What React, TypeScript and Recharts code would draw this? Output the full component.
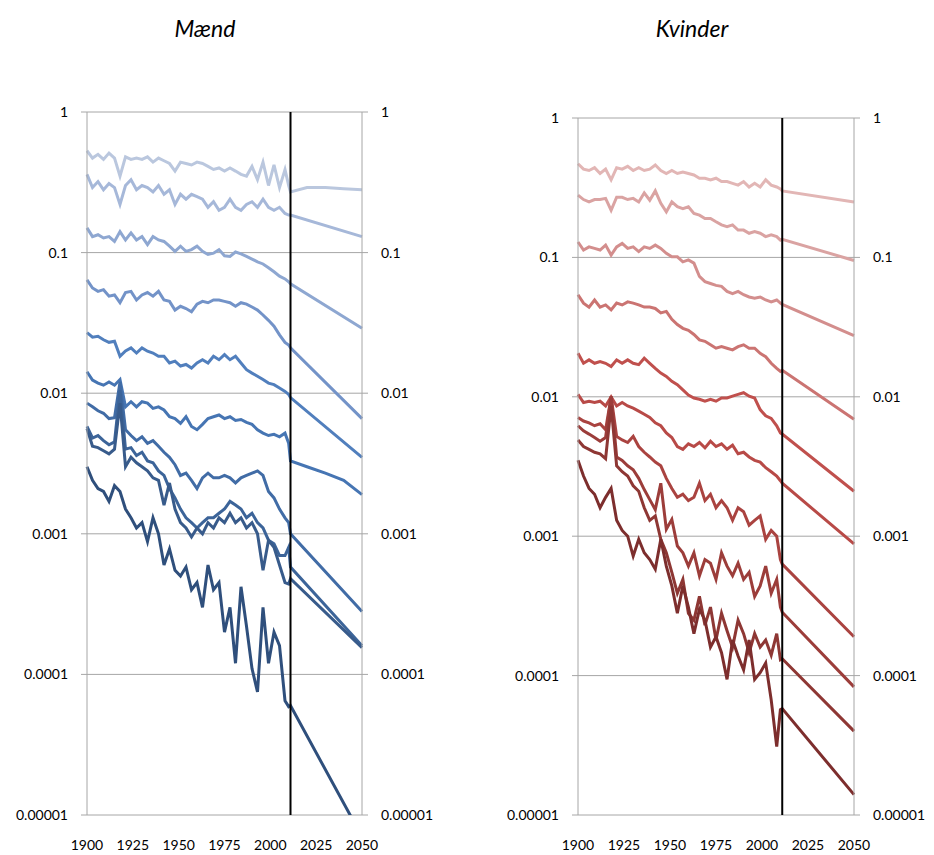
import React from 'react';
import { LineChart, Line, XAxis, YAxis, CartesianGrid, ReferenceLine } from 'recharts';

// years: observed (3-year steps to 2010) followed by projection points
const years = [
  1900, 1903, 1906, 1909, 1912, 1915, 1918, 1921, 1924, 1927, 1930, 1933, 1936, 1939, 1942, 1945,
  1948, 1951, 1954, 1957, 1960, 1963, 1966, 1969, 1972, 1975, 1978, 1981, 1984, 1987, 1990, 1993,
  1996, 1999, 2002, 2005, 2008, 2010,
  2011, 2020, 2030, 2040, 2050,
];

const xTicks = [1900, 1925, 1950, 1975, 2000, 2025, 2050];
const yTicks = [0.00001, 0.0001, 0.001, 0.01, 0.1, 1];
const yTickLabels = ['0.00001', '0.0001', '0.001', '0.01', '0.1', '1'];
const forecastStart = 2011;

// Mænd
const m1 = [0.53, 0.47, 0.5, 0.46, 0.51, 0.47, 0.35, 0.48, 0.46, 0.47, 0.46, 0.48, 0.44, 0.47, 0.45, 0.43, 0.38, 0.44, 0.43, 0.42, 0.44, 0.43, 0.41, 0.39, 0.4, 0.38, 0.4, 0.38, 0.36, 0.35, 0.41, 0.33, 0.44, 0.3, 0.42, 0.29, 0.39, 0.3,
  0.27, 0.29, 0.29, 0.285, 0.28];
const m2 = [0.36, 0.29, 0.32, 0.28, 0.31, 0.29, 0.22, 0.3, 0.33, 0.28, 0.3, 0.29, 0.27, 0.3, 0.26, 0.28, 0.22, 0.26, 0.24, 0.26, 0.25, 0.24, 0.21, 0.23, 0.2, 0.21, 0.24, 0.21, 0.2, 0.22, 0.23, 0.21, 0.24, 0.21, 0.2, 0.21, 0.19, 0.185,
  0.185, null, null, null, 0.13];
const m3 = [0.15, 0.13, 0.134, 0.127, 0.13, 0.12, 0.141, 0.123, 0.138, 0.123, 0.13, 0.114, 0.13, 0.123, 0.12, 0.111, 0.102, 0.111, 0.102, 0.105, 0.111, 0.102, 0.097, 0.099, 0.105, 0.095, 0.094, 0.101, 0.098, 0.094, 0.09, 0.086, 0.083, 0.078, 0.073, 0.068, 0.065, 0.062,
  0.06, null, null, null, 0.029];
const m4 = [0.064, 0.056, 0.053, 0.0545, 0.049, 0.05, 0.044, 0.052, 0.053, 0.046, 0.05, 0.052, 0.049, 0.053, 0.046, 0.045, 0.039, 0.0415, 0.04, 0.038, 0.043, 0.045, 0.044, 0.046, 0.046, 0.045, 0.044, 0.0415, 0.044, 0.043, 0.041, 0.039, 0.036, 0.033, 0.03, 0.026, 0.023, 0.022,
  0.021, null, null, null, 0.0066];
const m5 = [0.027, 0.025, 0.0254, 0.024, 0.023, 0.0234, 0.0183, 0.02, 0.021, 0.0193, 0.021, 0.0199, 0.0193, 0.0183, 0.0183, 0.0164, 0.0169, 0.0156, 0.016, 0.0151, 0.0164, 0.0173, 0.0164, 0.0183, 0.0173, 0.0188, 0.0173, 0.0183, 0.0164, 0.0147, 0.0139, 0.0132, 0.0125, 0.0118, 0.0115, 0.0109, 0.0103, 0.0098,
  0.0093, null, null, null, 0.0035];
const m6 = [0.0142, 0.0124, 0.0118, 0.0114, 0.012, 0.0114, 0.0125, 0.008, 0.0087, 0.008, 0.0087, 0.0085, 0.0078, 0.008, 0.0076, 0.0068, 0.0066, 0.0061, 0.0068, 0.0058, 0.0055, 0.006, 0.0066, 0.0068, 0.007, 0.0066, 0.0068, 0.0064, 0.0065, 0.0062, 0.006, 0.0055, 0.0052, 0.005, 0.0051, 0.0049, 0.0052, 0.0044,
  0.0033, 0.003, 0.0027, 0.0024, 0.0019];
const m7 = [0.0085, 0.008, 0.0075, 0.0072, 0.0066, 0.0067, 0.012, 0.0055, 0.005, 0.0046, 0.0049, 0.0044, 0.0046, 0.0042, 0.0038, 0.0035, 0.0031, 0.0026, 0.0027, 0.0024, 0.0021, 0.0025, 0.0027, 0.0025, 0.0025, 0.0026, 0.0025, 0.0023, 0.0025, 0.0026, 0.0027, 0.0028, 0.0026, 0.002, 0.0018, 0.0015, 0.0013, 0.0012,
  0.001, null, null, null, 0.00028];
const m8 = [0.0058, 0.0048, 0.005, 0.0046, 0.0043, 0.0045, 0.0105, 0.004, 0.0041, 0.0036, 0.0038, 0.0033, 0.0032, 0.0028, 0.0026, 0.0021, 0.0018, 0.0015, 0.0013, 0.0012, 0.0011, 0.0012, 0.0013, 0.0013, 0.0014, 0.0015, 0.0017, 0.0016, 0.0015, 0.0013, 0.0014, 0.0012, 0.0011, 0.0009, 0.00085, 0.0007, 0.0007, 0.0008,
  0.00058, null, null, null, 0.00016];
const m9 = [0.0056, 0.0042, 0.0041, 0.0039, 0.0037, 0.004, 0.0085, 0.003, 0.0035, 0.0032, 0.003, 0.0028, 0.0025, 0.0024, 0.0016, 0.0023, 0.0015, 0.0012, 0.0011, 0.00095, 0.0011, 0.001, 0.0012, 0.0011, 0.0013, 0.0012, 0.0014, 0.0012, 0.0013, 0.0011, 0.0012, 0.001, 0.00055, 0.0009, 0.0008, 0.0006, 0.00045, 0.00044,
  0.00048, null, null, null, 0.000155];
const m10 = [0.003, 0.0024, 0.0021, 0.002, 0.0017, 0.0022, 0.002, 0.0015, 0.0013, 0.0011, 0.0012, 0.00088, 0.0013, 0.001, 0.0006, 0.00078, 0.00055, 0.0005, 0.00058, 0.0004, 0.00045, 0.0003, 0.0006, 0.0004, 0.00045, 0.0002, 0.0003, 0.00012, 0.00042, 0.00022, 0.00011, 0.000075, 0.0003, 0.00012, 0.0002, 0.00016, 0.000065, 0.000059,
  0.00006, null, null, null, 0.000007];

// Kvinder
const k1 = [0.47, 0.43, 0.42, 0.44, 0.4, 0.43, 0.36, 0.44, 0.43, 0.45, 0.42, 0.44, 0.42, 0.43, 0.46, 0.42, 0.4, 0.42, 0.4, 0.41, 0.4, 0.39, 0.37, 0.37, 0.36, 0.37, 0.35, 0.35, 0.34, 0.33, 0.35, 0.32, 0.34, 0.32, 0.36, 0.33, 0.32, 0.31,
  0.3, null, null, null, 0.25];
const k2 = [0.28, 0.26, 0.25, 0.26, 0.26, 0.265, 0.218, 0.27, 0.27, 0.26, 0.265, 0.25, 0.29, 0.257, 0.3, 0.244, 0.212, 0.25, 0.231, 0.224, 0.231, 0.207, 0.201, 0.19, 0.19, 0.18, 0.171, 0.166, 0.171, 0.157, 0.157, 0.149, 0.153, 0.149, 0.141, 0.145, 0.141, 0.133,
  0.135, null, null, null, 0.095];
const k3 = [0.129, 0.113, 0.119, 0.116, 0.113, 0.1225, 0.104, 0.119, 0.126, 0.116, 0.119, 0.11, 0.119, 0.116, 0.1225, 0.116, 0.107, 0.101, 0.101, 0.093, 0.096, 0.091, 0.073, 0.067, 0.065, 0.063, 0.062, 0.057, 0.055, 0.057, 0.054, 0.052, 0.051, 0.052, 0.0495, 0.048, 0.0495, 0.047,
  0.046, null, null, null, 0.0275];
const k4 = [0.054, 0.047, 0.044, 0.0495, 0.044, 0.0456, 0.042, 0.047, 0.0456, 0.048, 0.047, 0.0456, 0.044, 0.044, 0.043, 0.04, 0.041, 0.036, 0.033, 0.031, 0.03, 0.028, 0.0256, 0.025, 0.0236, 0.0223, 0.0229, 0.0223, 0.0217, 0.0229, 0.0236, 0.0223, 0.0223, 0.0205, 0.0194, 0.0174, 0.016, 0.0152,
  0.0155, null, null, null, 0.0069];
const k5 = [0.0205, 0.0174, 0.0184, 0.0174, 0.0179, 0.0174, 0.0165, 0.0184, 0.0174, 0.0184, 0.0174, 0.017, 0.0189, 0.0174, 0.016, 0.0148, 0.014, 0.0129, 0.0122, 0.0112, 0.0103, 0.0098, 0.0096, 0.0093, 0.0096, 0.0093, 0.0098, 0.0098, 0.0101, 0.0104, 0.0107, 0.0101, 0.0098, 0.0081, 0.0073, 0.007, 0.0062, 0.0055,
  0.0054, null, null, null, 0.0021];
const k6 = [0.0104, 0.0091, 0.0093, 0.0091, 0.0093, 0.0086, 0.01, 0.0086, 0.0091, 0.0086, 0.0083, 0.0079, 0.0075, 0.0071, 0.0065, 0.0062, 0.0055, 0.0051, 0.0044, 0.0042, 0.0046, 0.0044, 0.0047, 0.0043, 0.0048, 0.0044, 0.0046, 0.0042, 0.0045, 0.0039, 0.004, 0.0037, 0.0035, 0.0034, 0.0031, 0.0029, 0.0027, 0.0025,
  0.0024, null, null, null, 0.00088];
const k7 = [0.0071, 0.0067, 0.0065, 0.0062, 0.0064, 0.0058, 0.01, 0.0052, 0.0049, 0.0047, 0.0052, 0.0044, 0.004, 0.0037, 0.0034, 0.0032, 0.0026, 0.0022, 0.0019, 0.002, 0.0018, 0.0019, 0.0024, 0.0018, 0.002, 0.0016, 0.0018, 0.0016, 0.0013, 0.0016, 0.0015, 0.0012, 0.0013, 0.0014, 0.00095, 0.0011, 0.001, 0.00068,
  0.00063, null, null, null, 0.00019];
const k8 = [0.0062, 0.0057, 0.0054, 0.0051, 0.0048, 0.0051, 0.0101, 0.0037, 0.0035, 0.0032, 0.003, 0.0026, 0.00216, 0.00183, 0.00155, 0.0024, 0.00112, 0.00132, 0.00085, 0.00076, 0.00061, 0.00076, 0.00052, 0.00068, 0.00064, 0.00049, 0.00076, 0.00061, 0.00052, 0.00064, 0.00049, 0.00055, 0.00037, 0.00044, 0.00061, 0.00039, 0.00049, 0.00031,
  0.000285, null, null, null, 0.000083];
const k9 = [0.0049, 0.0044, 0.0042, 0.004, 0.0039, 0.0036, 0.0086, 0.0032, 0.0029, 0.0027, 0.0023, 0.0021, 0.0016, 0.0013, 0.0014, 0.00095, 0.00076, 0.00055, 0.00039, 0.00049, 0.00028, 0.00025, 0.00037, 0.00023, 0.00031, 0.00018, 0.00028, 0.00021, 0.00016, 0.00025, 0.0002, 0.000146, 0.0002, 0.00016, 0.00018, 0.00014, 0.0002, 0.00013,
  0.000132, null, null, null, 0.00004];
const k10 = [0.0035, 0.0027, 0.0022, 0.002, 0.0016, 0.0019, 0.0022, 0.0013, 0.0011, 0.001, 0.00072, 0.00095, 0.00076, 0.00068, 0.00058, 0.00095, 0.00061, 0.00044, 0.00028, 0.00044, 0.00031, 0.0002, 0.0003, 0.00025, 0.00016, 0.00019, 0.000146, 0.000094, 0.00018, 0.000138, 0.00011, 0.00018, 0.000094, 0.000105, 0.000123, 0.000067, 0.000031, 0.000057,
  0.000058, null, null, null, 0.000014];

const menSeries = [m1, m2, m3, m4, m5, m6, m7, m8, m9, m10];
const womenSeries = [k1, k2, k3, k4, k5, k6, k7, k8, k9, k10];

const menColors = ['#bac7de', '#a6b8d9', '#8ea7d1', '#7393c8', '#517fbd', '#4675b3', '#416ca6', '#3c6499', '#385b8b', '#2f4f7c'];
const womenColors = ['#e2b6b5', '#daa3a2', '#d38e8d', '#cb7472', '#c0504d', '#b84a47', '#aa4340', '#9c3d3a', '#8e3734', '#7d2e2d'];

const GRID = '#a6a6a6';
const tickStyle = { fontSize: 14, fill: '#000' };
const fmtY = (v: number) => {
  const i = yTicks.indexOf(v);
  return i >= 0 ? yTickLabels[i] : String(v);
};

interface PanelProps {
  title: string;
  series: (number | null)[][];
  colors: string[];
  left: number;
  width: number;
  plotTop: number;
  titleCenter: number;
}

function Panel({ title, series, colors, left, width, plotTop, titleCenter }: PanelProps) {
  const data = years.map((year, i) => {
    const row: Record<string, number | null> = { year };
    series.forEach((s, k) => {
      row['s' + k] = s[i];
    });
    return row;
  });

  return (
    <div style={{ position: 'absolute', left, top: 0, width, height: 855 }}>
      <div
        style={{
          position: 'absolute',
          left: titleCenter - left - 100,
          top: 17,
          width: 200,
          textAlign: 'center',
          fontStyle: 'italic',
          fontSize: 23,
          lineHeight: '23px',
        }}
      >
        {title}
      </div>
      <LineChart width={width} height={855} data={data} margin={{ top: plotTop, right: 0, bottom: 0, left: 0 }}>
        <CartesianGrid vertical={false} stroke={GRID} />
        <XAxis
          dataKey="year"
          type="number"
          domain={[1900, 2050]}
          ticks={xTicks}
          interval={0}
          axisLine={false}
          tickLine={false}
          tickMargin={19}
          height={40}
          tick={tickStyle}
        />
        <YAxis
          scale="log"
          domain={[0.00001, 1]}
          allowDataOverflow
          ticks={yTicks}
          interval={0}
          tickFormatter={fmtY}
          width={87}
          tickSize={6}
          tickMargin={13}
          stroke={GRID}
          tick={tickStyle}
        />
        <YAxis
          yAxisId="r"
          orientation="right"
          scale="log"
          domain={[0.00001, 1]}
          allowDataOverflow
          ticks={yTicks}
          interval={0}
          tickFormatter={fmtY}
          width={78}
          tickSize={6}
          tickMargin={13}
          stroke={GRID}
          tick={tickStyle}
        />
        {series.map((_, k) => (
          <Line
            key={k}
            dataKey={'s' + k}
            stroke={colors[k]}
            strokeWidth={3}
            dot={false}
            activeDot={false}
            connectNulls
            isAnimationActive={false}
          />
        ))}
        <ReferenceLine x={forecastStart} stroke="#000" strokeWidth={2} />
      </LineChart>
    </div>
  );
}

export default function App() {
  return (
    <div
      style={{
        position: 'absolute',
        left: 0,
        top: 0,
        width: 934,
        height: 855,
        background: '#fff',
        fontFamily: 'Lato, "Open Sans", sans-serif',
      }}
    >
      <Panel title="Mænd" series={menSeries} colors={menColors} left={0} width={440} plotTop={112} titleCenter={205} />
      <Panel title="Kvinder" series={womenSeries} colors={womenColors} left={491} width={441} plotTop={118} titleCenter={692} />
    </div>
  );
}
